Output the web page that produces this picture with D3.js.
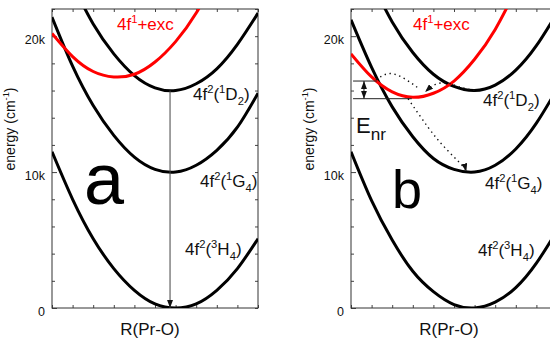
<!DOCTYPE html>
<html>
<head>
<meta charset="utf-8">
<script src="https://cdn.jsdelivr.net/npm/d3@7"></script>
<style>
  body { margin: 0; background: #fff; }
  svg { display: block; font-family: "Liberation Sans", Arial, sans-serif; }
</style>
</head>
<body>
<svg id="chart" width="550" height="342"></svg>
<script>
// axis ticks (R in arbitrary units, energy in thousands of cm-1)
const rTicks = [0, 1, 2, 3, 4, 5, 6, 7, 8, 9, 10];
const eMinorTicks = [0, 2, 4, 6, 8, 12, 14, 16, 18, 22];
const eMajorTicks = [0, 10, 20];
const eTickLabels = ["0", "10k", "20k"];

// panel a curves  [R, E(k)]
const a_H4  = [[0,11.5],[1,8.0],[2,5.1],[3,2.9],[4,1.3],[5,0.3],[6,0],[7,0.3],[8,1.3],[9,2.9],[10,5.1]];
const a_G4  = [[0,21.4],[1,17.8],[2,14.9],[3,12.7],[4,11.1],[5,10.2],[6,10.0],[7,10.5],[8,11.6],[9,13.3],[10,15.8]];
const a_D2  = [[1,23.8],[2,20.9],[3,18.7],[4,17.1],[5,16.2],[6,16.0],[7,16.5],[8,17.6],[9,19.4],[10,21.7]];
const a_exc = [[0,20.2],[1,18.5],[2,17.4],[3,17.0],[4,17.2],[5,18.1],[6,19.6],[7,21.7],[8,24.5]];
const a_emission = [[5.73,16.0],[5.73,0]];

// panel b curves
const b_H4  = [[0,11.5],[1,7.9],[2,5.0],[3,2.7],[4,1.2],[5,0.25],[6,0],[7,0.43],[8,1.5],[9,3.3],[10,5.7]];
const b_G4  = [[0,21.2],[1,17.7],[2,14.8],[3,12.6],[4,11.0],[5,10.2],[6,10.0],[7,10.5],[8,11.7],[9,13.6],[10,16.1]];
const b_D2  = [[1,24.0],[2,21.05],[3,18.8],[4,17.2],[5,16.3],[6,16.0],[7,16.4],[8,17.5],[9,19.3],[10,21.7]];
const b_exc = [[0,18.7],[1,17.0],[2,15.9],[3,15.5],[4,15.8],[5,16.7],[6,18.3],[7,20.5],[8,23.4]];

// panel b annotations
const b_levelHigh = [[0.1,16.7],[1.26,16.7]];
const b_levelLow  = [[0.1,15.4],[2.95,15.4]];
const b_enrArrow  = [[0.63,16.7],[0.63,15.4]];
const b_dotHump   = [[1.21,16.8],[1.89,17.25],[2.62,16.85],[3.25,16.2]];
const b_dotBack   = [[6.0,16.0],[5.2,16.3],[4.7,16.55],[4.1,16.45],[3.6,15.9]];
const b_dotDown   = [[2.77,15.4],[3.74,13.3],[4.56,11.8],[5.39,10.5],[5.6,10.05]];

const plotTop = 9, plotBottom = 308, plotWidth = 206;

const svg = d3.select("#chart");

const defs = svg.append("defs");
defs.append("marker")
    .attr("id", "arrow")
    .attr("viewBox", "0 0 8 6")
    .attr("markerUnits", "userSpaceOnUse")
    .attr("markerWidth", 8)
    .attr("markerHeight", 6)
    .attr("refX", 8)
    .attr("refY", 3)
    .attr("orient", "auto-start-reverse")
    .append("path")
    .attr("d", "M0,0L8,3L0,6Z")
    .attr("fill", "#111");

var y = d3.scaleLinear().domain([0, 22]).range([plotBottom, plotTop]);

// rich text with sup / sub parts
function richText(g, px, py, parts, size, color, anchor, subScale) {
    var small = subScale || 0.66;
    var t = g.append("text")
        .attr("x", px)
        .attr("y", py)
        .attr("font-size", size)
        .attr("fill", color)
        .attr("text-anchor", anchor || "start");
    var shift = 0;
    parts.forEach(function (p) {
        var target = p[1] == "sup" ? -0.42 * size : p[1] == "sub" ? 0.3 * size : 0;
        t.append("tspan")
            .attr("dy", target - shift)
            .attr("font-size", p[1] == "n" ? size : size * small)
            .text(p[0]);
        shift = target;
    });
    return t;
}

function drawPanel(id, left, curves, redCurve, letter, letterSize, labels) {
    var x = d3.scaleLinear().domain([0, 10]).range([left, left + plotWidth]);
    var g = svg.append("g").attr("id", id);

    defs.append("clipPath").attr("id", "clip-" + id)
        .append("rect")
        .attr("x", left).attr("y", plotTop)
        .attr("width", plotWidth).attr("height", plotBottom - plotTop);

    var line = d3.line()
        .x(function (d) { return x(d[0]); })
        .y(function (d) { return y(d[1]); })
        .curve(d3.curveNatural);
    var straight = d3.line()
        .x(function (d) { return x(d[0]); })
        .y(function (d) { return y(d[1]); });

    // ticks, all pointing inward
    g.append("g")
        .attr("transform", "translate(" + left + ",0)")
        .call(d3.axisLeft(y).tickValues(eMinorTicks).tickSize(-3).tickSizeOuter(0).tickFormat(""));
    g.append("g")
        .attr("transform", "translate(" + left + ",0)")
        .call(d3.axisLeft(y).tickValues(eMajorTicks).tickSize(-5).tickSizeOuter(0).tickFormat(""));
    g.append("g")
        .attr("transform", "translate(" + (left + plotWidth) + ",0)")
        .call(d3.axisRight(y).tickValues(eMinorTicks.concat(eMajorTicks)).tickSize(-3).tickSizeOuter(0).tickFormat(""));
    g.append("g")
        .attr("transform", "translate(0," + plotBottom + ")")
        .call(d3.axisBottom(x).tickValues(rTicks).tickSize(-3).tickSizeOuter(0).tickFormat(""));
    g.append("g")
        .attr("transform", "translate(0," + plotTop + ")")
        .call(d3.axisTop(x).tickValues(rTicks).tickSize(-3).tickSizeOuter(0).tickFormat(""));
    g.selectAll(".domain").remove();
    g.selectAll(".tick line").attr("stroke", "#444");

    g.append("rect")
        .attr("x", left).attr("y", plotTop)
        .attr("width", plotWidth).attr("height", plotBottom - plotTop)
        .attr("fill", "none")
        .attr("stroke", "#333")
        .attr("stroke-width", 1);

    // tick labels
    g.selectAll(".elabel")
        .data(eMajorTicks)
        .enter().append("text")
        .attr("class", "elabel")
        .attr("x", left - 7)
        .attr("y", function (d) { return y(d) + 8; })
        .attr("text-anchor", "end")
        .attr("font-size", 12.5)
        .attr("fill", "#111")
        .text(function (d, i) { return eTickLabels[i]; });

    var plot = g.append("g").attr("clip-path", "url(#clip-" + id + ")");

    curves.forEach(function (c) {
        plot.append("path")
            .attr("d", line(c))
            .attr("fill", "none")
            .attr("stroke", "#000")
            .attr("stroke-width", 3);
    });
    plot.append("path")
        .attr("d", line(redCurve))
        .attr("fill", "none")
        .attr("stroke", "#ff0000")
        .attr("stroke-width", 3);

    // panel letter
    g.append("text")
        .attr("x", letter[1])
        .attr("y", letter[2])
        .attr("font-size", letterSize)
        .attr("fill", "#000")
        .text(letter[0]);

    // state labels
    labels.forEach(function (l) {
        richText(g, l.x, l.y, l.parts, 17, l.color);
    });

    // axis titles
    richText(g, left + 98, 335, [["R(Pr-O)", "n"]], 17, "#111", "middle");
    var yl = g.append("g").attr("transform", "translate(" + (left - 37) + ",129) rotate(-90)");
    richText(yl, 0, 0, [["energy (cm", "n"], ["-1", "sup"], [")", "n"]], 14, "#111", "middle");

    return {g: g, plot: plot, line: line, straight: straight, x: x};
}

function stateLabels(xs, ys) {
    return [
        {x: xs[0], y: ys[0], color: "#ff0000", parts: [["4f", "n"], ["1", "sup"], ["+exc", "n"]]},
        {x: xs[1], y: ys[1], color: "#111", parts: [["4f", "n"], ["2", "sup"], ["(", "n"], ["1", "sup"], ["D", "n"], ["2", "sub"], [")", "n"]]},
        {x: xs[2], y: ys[2], color: "#111", parts: [["4f", "n"], ["2", "sup"], ["(", "n"], ["1", "sup"], ["G", "n"], ["4", "sub"], [")", "n"]]},
        {x: xs[3], y: ys[3], color: "#111", parts: [["4f", "n"], ["2", "sup"], ["(", "n"], ["3", "sup"], ["H", "n"], ["4", "sub"], [")", "n"]]}
    ];
}

// panel a
var pa = drawPanel("a", 52, [a_H4, a_G4, a_D2], a_exc, ["a", 84, 204], 72,
    stateLabels([117, 193, 200, 185], [30, 100, 187, 255]));

pa.g.append("path")
    .attr("d", pa.straight(a_emission))
    .attr("fill", "none")
    .attr("stroke", "#444")
    .attr("stroke-width", 1)
    .attr("marker-end", "url(#arrow)");

// panel b
var pb = drawPanel("b", 351, [b_H4, b_G4, b_D2], b_exc, ["b", 392, 208], 54,
    stateLabels([413, 483, 485, 478], [30, 106, 189, 256]));

[b_levelHigh, b_levelLow].forEach(function (l) {
    pb.g.append("path")
        .attr("d", pb.straight(l))
        .attr("fill", "none")
        .attr("stroke", "#222")
        .attr("stroke-width", 1);
});
pb.g.append("path")
    .attr("d", pb.straight(b_enrArrow))
    .attr("fill", "none")
    .attr("stroke", "#222")
    .attr("stroke-width", 1)
    .attr("marker-start", "url(#arrow)")
    .attr("marker-end", "url(#arrow)");

[b_dotHump, b_dotBack, b_dotDown].forEach(function (l, i) {
    pb.g.append("path")
        .attr("d", pb.line(l))
        .attr("fill", "none")
        .attr("stroke", "#111")
        .attr("stroke-width", 1.4)
        .attr("stroke-dasharray", "1.4,3.6")
        .attr("marker-end", i > 0 ? "url(#arrow)" : null);
});

richText(pb.g, 356, 133, [["E", "n"], ["nr", "sub"]], 22, "#111", "start", 0.78);
</script>
</body>
</html>
